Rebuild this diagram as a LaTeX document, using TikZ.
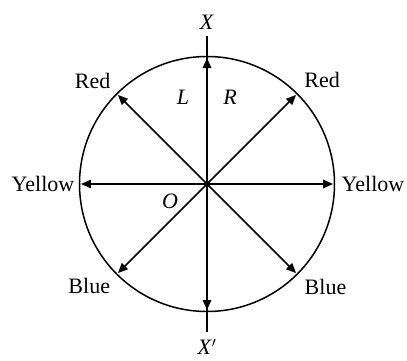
\documentclass[tikz,border=0pt]{standalone}
\usepackage{fontspec}
\setmainfont{Liberation Serif}
\usetikzlibrary{arrows.meta}

\begin{document}
\begin{tikzpicture}[x=1pt, y=1pt, every node/.style={font=\fontsize{22}{26}\selectfont, inner sep=0pt}, >={Triangle[length=10pt, width=8.5pt]}, ray/.style={->, line width=1.6pt}, axis/.style={line width=1.6pt}]
	\useasboundingbox (-207,-176) rectangle (200,184);
	\coordinate (O) at (0,0);
	\draw[line width=1.5pt] (O) circle (127.5);
	% optic axis X X'
	\coordinate (Xt) at (0,148);
	\coordinate (Xb) at (0,-148);
	\draw[axis] (Xt) -- (Xb);
	\node (X) at (0,162) {\textit{X}};
	\node (Xp) at (0,-163) {\textit{X}$'$};
	% vibration directions
	\foreach \a in {0,45,90,135,180,225,270,315} {\coordinate (t\a) at (\a:126); \draw[ray] (O) -- (t\a);}
	\fill (O) circle (3);
	\foreach \a/\r/\t in {138/154/Red, 42/155/Red, 180/164/Yellow, 0/166/Yellow, 221/156/Blue, 319/157/Blue} {\node (c\a) at (\a:\r) {\t};}
	\node (L) at (-24,87) {\textit{L}};
	\node (R) at (23,87) {\textit{R}};
	\node (Olbl) at (-37,-17) {\textit{O}};
\end{tikzpicture}
\end{document}
